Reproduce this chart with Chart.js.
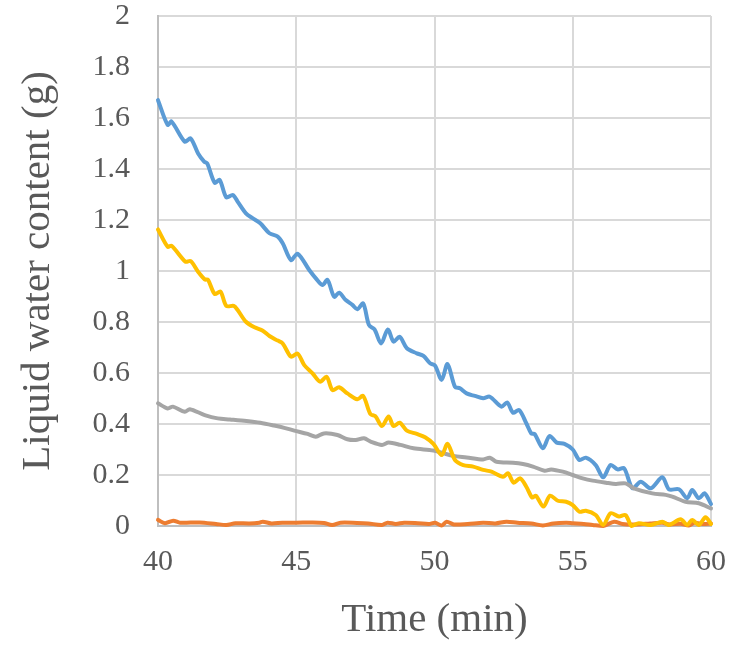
<!DOCTYPE html>
<html>
<head>
<meta charset="utf-8">
<title>Liquid water content</title>
<script src="https://cdn.jsdelivr.net/npm/chart.js@4.4.1/dist/chart.umd.min.js"></script>
<style>
  html, body { margin: 0; padding: 0; background: #fff; }
  #wrap { width: 744px; height: 647px; }
</style>
</head>
<body>
<div id="wrap"><canvas id="lwcChart" width="744" height="647"></canvas></div>
<script>
// time (min) and liquid water content (g) for each run

const blueTime = [40.0, 40.35, 40.49, 40.97, 41.18, 41.45, 41.67, 41.78, 42.05, 42.23, 42.47, 42.71, 42.88, 43.18, 43.42, 43.7, 44.03, 44.33, 44.51, 44.81, 45.05, 45.47, 45.71, 45.95, 46.13, 46.37, 46.55, 46.79, 47.03, 47.21, 47.42, 47.63, 47.83, 48.07, 48.31, 48.52, 48.74, 49.0, 49.36, 49.6, 49.84, 50.02, 50.26, 50.47, 50.74, 50.92, 51.16, 51.46, 51.76, 52.0, 52.42, 52.63, 52.84, 53.06, 53.32, 53.5, 53.62, 53.92, 54.16, 54.42, 54.7, 55.0, 55.24, 55.47, 55.83, 56.1, 56.37, 56.62, 56.86, 57.16, 57.46, 57.82, 58.24, 58.48, 58.84, 59.14, 59.32, 59.56, 59.77, 60.0];
const blueLwc = [1.67, 1.573, 1.586, 1.507, 1.52, 1.461, 1.429, 1.422, 1.346, 1.357, 1.289, 1.298, 1.272, 1.226, 1.207, 1.187, 1.148, 1.135, 1.109, 1.043, 1.068, 1.004, 0.971, 0.945, 0.965, 0.899, 0.915, 0.886, 0.867, 0.85, 0.873, 0.788, 0.771, 0.716, 0.771, 0.723, 0.742, 0.697, 0.677, 0.667, 0.638, 0.629, 0.573, 0.635, 0.546, 0.54, 0.52, 0.51, 0.501, 0.507, 0.468, 0.484, 0.444, 0.455, 0.403, 0.363, 0.361, 0.305, 0.353, 0.327, 0.322, 0.3, 0.259, 0.268, 0.239, 0.191, 0.239, 0.222, 0.226, 0.148, 0.174, 0.148, 0.191, 0.144, 0.144, 0.109, 0.141, 0.109, 0.128, 0.086];

const orangeTime = [40.0, 40.25, 40.55, 40.8, 41.5, 42.1, 42.47, 42.8, 43.3, 43.67, 43.79, 44.1, 44.5, 45.0, 45.6, 46.0, 46.3, 46.6, 47.2, 47.6, 48.1, 48.3, 48.6, 48.9, 49.4, 49.8, 50.02, 50.26, 50.44, 50.7, 51.2, 51.76, 52.2, 52.6, 53.0, 53.5, 53.92, 54.3, 54.76, 55.0, 55.4, 55.72, 56.1, 56.5, 56.8, 57.3, 57.8, 58.24, 58.5, 58.9, 59.2, 59.4, 59.7, 60.0];
const orangeLwc = [0.024, 0.011, 0.021, 0.013, 0.014, 0.008, 0.004, 0.011, 0.01, 0.013, 0.017, 0.01, 0.013, 0.013, 0.014, 0.012, 0.004, 0.013, 0.012, 0.01, 0.004, 0.013, 0.008, 0.013, 0.011, 0.008, 0.013, 0.002, 0.017, 0.006, 0.008, 0.013, 0.01, 0.017, 0.013, 0.01, 0.002, 0.01, 0.013, 0.011, 0.008, 0.004, 0.0, 0.017, 0.008, 0.006, 0.01, 0.013, 0.006, 0.009, 0.002, 0.013, 0.008, 0.01];

const grayTime = [40.0, 40.35, 40.54, 40.97, 41.15, 41.69, 42.16, 42.6, 43.2, 43.7, 44.2, 44.6, 44.93, 45.41, 45.71, 46.0, 46.49, 46.85, 47.15, 47.45, 47.69, 48.1, 48.34, 48.77, 49.24, 49.96, 50.3, 50.68, 51.16, 51.76, 52.0, 52.24, 52.84, 53.2, 53.56, 53.98, 54.22, 54.64, 55.0, 55.36, 55.72, 56.2, 56.56, 56.91, 57.21, 57.88, 58.36, 58.6, 59.08, 59.56, 60.0];
const grayLwc = [0.481, 0.461, 0.468, 0.448, 0.458, 0.435, 0.422, 0.418, 0.412, 0.405, 0.394, 0.384, 0.374, 0.361, 0.35, 0.363, 0.357, 0.34, 0.337, 0.344, 0.331, 0.318, 0.327, 0.318, 0.305, 0.296, 0.286, 0.275, 0.269, 0.261, 0.268, 0.252, 0.248, 0.243, 0.233, 0.217, 0.222, 0.213, 0.2, 0.187, 0.178, 0.17, 0.165, 0.167, 0.148, 0.128, 0.122, 0.115, 0.095, 0.089, 0.069];

const yellowTime = [40.0, 40.35, 40.49, 40.99, 41.18, 41.45, 41.69, 41.81, 42.05, 42.26, 42.47, 42.74, 42.88, 43.18, 43.49, 43.79, 44.03, 44.33, 44.51, 44.81, 45.05, 45.29, 45.59, 45.86, 46.1, 46.31, 46.55, 46.85, 47.21, 47.42, 47.68, 47.86, 48.1, 48.34, 48.52, 48.74, 49.0, 49.36, 49.66, 49.96, 50.26, 50.47, 50.74, 51.04, 51.4, 51.76, 52.06, 52.48, 52.66, 52.86, 53.1, 53.32, 53.53, 53.67, 53.94, 54.18, 54.46, 54.76, 55.0, 55.24, 55.47, 55.83, 56.1, 56.37, 56.67, 56.91, 57.13, 57.39, 57.82, 58.24, 58.48, 58.9, 59.14, 59.32, 59.56, 59.8, 60.0];
const yellowLwc = [1.163, 1.095, 1.099, 1.037, 1.039, 0.997, 0.967, 0.965, 0.91, 0.919, 0.863, 0.863, 0.847, 0.801, 0.779, 0.766, 0.745, 0.727, 0.716, 0.664, 0.676, 0.631, 0.599, 0.566, 0.585, 0.533, 0.544, 0.52, 0.497, 0.51, 0.439, 0.431, 0.392, 0.429, 0.392, 0.405, 0.374, 0.361, 0.348, 0.322, 0.278, 0.322, 0.259, 0.239, 0.233, 0.22, 0.213, 0.193, 0.207, 0.17, 0.187, 0.154, 0.112, 0.118, 0.076, 0.119, 0.099, 0.095, 0.082, 0.056, 0.06, 0.043, 0.004, 0.05, 0.037, 0.043, 0.0, 0.011, 0.004, 0.017, 0.004, 0.026, 0.004, 0.024, 0.004, 0.034, 0.008];

const xTicks = [40, 45, 50, 55, 60];

const textColor = '#595959';
const serif = "'Liberation Serif', 'Times New Roman', serif";

function pairs(t, v) {
  return t.map((x, i) => ({ x: x, y: v[i] }));
}

function series(t, v, color) {
  return {
    data: pairs(t, v),
    borderColor: color,
    backgroundColor: color,
    borderWidth: 4,
    pointRadius: 0,
    tension: 0.3,
    fill: false,
    clip: 6,
    borderCapStyle: 'round',
    borderJoinStyle: 'round'
  };
}

// later series sit on top, so list them last-first (dataset 0 is drawn last)
const datasets = [
  series(yellowTime, yellowLwc, '#FFC000'),
  series(grayTime, grayLwc, '#A5A5A5'),
  series(orangeTime, orangeLwc, '#ED7D31'),
  series(blueTime, blueLwc, '#5B9BD5')
];

new Chart(document.getElementById('lwcChart'), {
  type: 'line',
  data: { datasets: datasets },
  options: {
    responsive: false,
    animation: false,
    layout: { padding: { left: 0, right: 30, top: 16, bottom: 0 } },
    plugins: { legend: { display: false }, tooltip: { enabled: false } },
    scales: {
      x: {
        type: 'linear',
        min: 40,
        max: 60,
        afterBuildTicks: (scale) => { scale.ticks = xTicks.map(v => ({ value: v })); },
        afterFit: (scale) => { scale.height = 121; },
        grid: { color: '#D9D9D9', lineWidth: 2, drawTicks: false },
        border: { color: '#BFBFBF', width: 2 },
        ticks: { color: textColor, padding: 18, maxRotation: 0, font: { family: serif, size: 30 } },
        title: {
          display: true,
          text: 'Time (min)',
          color: textColor,
          padding: { top: 0, bottom: 2 },
          font: { family: serif, size: 41 }
        }
      },
      y: {
        min: 0,
        max: 2,
        // tick padding would otherwise push the plot top down
        afterFit: (scale) => {
          scale.width = 158;
          scale.paddingTop = 0;
          scale.paddingBottom = 0;
        },
        grid: { color: '#D9D9D9', lineWidth: 2, drawTicks: false },
        border: { color: '#BFBFBF', width: 2 },
        ticks: {
          stepSize: 0.2,
          color: textColor,
          padding: 28,
          font: { family: serif, size: 30 },
          callback: (v) => Math.round(v * 10) / 10
        },
        title: {
          display: true,
          text: 'Liquid water content (g)',
          color: textColor,
          padding: { top: 14, bottom: 0 },
          font: { family: serif, size: 41 }
        }
      }
    }
  }
});
</script>
</body>
</html>
